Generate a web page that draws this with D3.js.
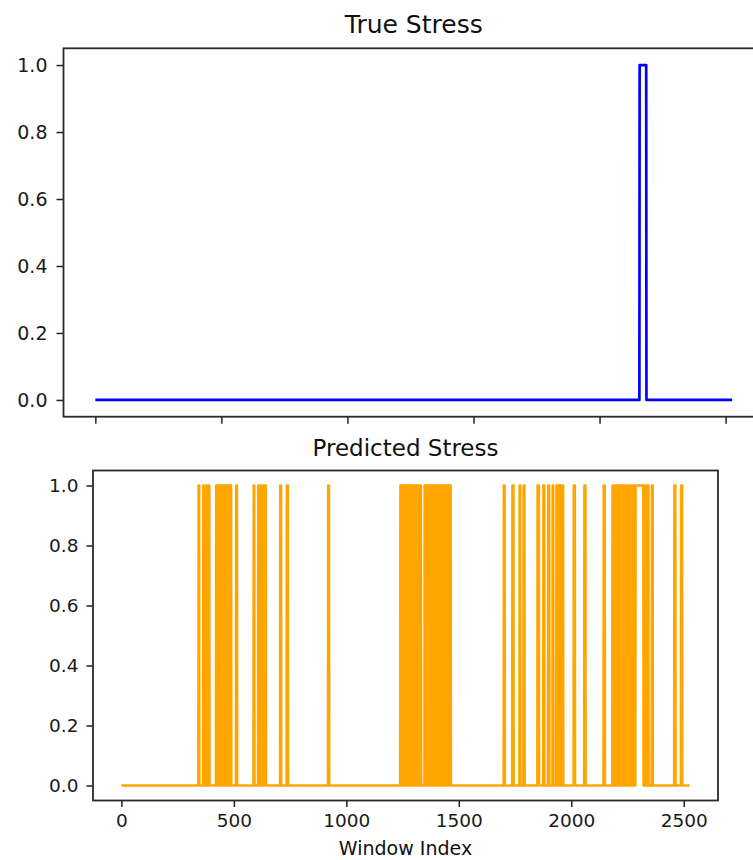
<!DOCTYPE html>
<html>
<head>
<meta charset="utf-8">
<script src="https://cdn.jsdelivr.net/npm/d3@7"></script>
<style>
  body { margin: 0; background: #fff; }
  svg { display: block; font-family: "DejaVu Sans", sans-serif; }
</style>
</head>
<body>
<svg id="chart" width="753" height="860"></svg>
<script>
// number of windows (index 0 .. nWindows-1)
var nWindows = 2527;
var xTicks = [0, 500, 1000, 1500, 2000, 2500];
var yTicks = [0, 0.2, 0.4, 0.6, 0.8, 1.0];

// windows where the label is 1, as [first, last] index runs
var trueStressRuns = [[2159, 2185]];

var predStressRuns = [
  [343, 346], [364, 367], [378, 382], [387, 391],
  [421, 423], [426, 428], [431, 433], [436, 438], [441, 443], [446, 448], [451, 453],
  [456, 458], [461, 463], [466, 468], [471, 473], [476, 478], [481, 483], [486, 488],
  [510, 514], [588, 591], [608, 611], [618, 621], [630, 633], [638, 642],
  [706, 710], [735, 740], [919, 923],
  [1240, 1242], [1245, 1247], [1250, 1252], [1255, 1257], [1260, 1262], [1265, 1267],
  [1270, 1272], [1275, 1277], [1280, 1282], [1285, 1287], [1290, 1292], [1295, 1297], [1300, 1303],
  [1312, 1314], [1317, 1319], [1322, 1324], [1328, 1332],
  [1348, 1350], [1353, 1355], [1358, 1360], [1363, 1365], [1368, 1370], [1373, 1375],
  [1378, 1380], [1383, 1385], [1388, 1390], [1393, 1395], [1398, 1400], [1406, 1408],
  [1411, 1413], [1416, 1418], [1421, 1423], [1430, 1432], [1435, 1437], [1440, 1442],
  [1445, 1447], [1450, 1452], [1455, 1457], [1460, 1464],
  [1700, 1704], [1738, 1743], [1770, 1773], [1788, 1792], [1850, 1856],
  [1876, 1880], [1897, 1902],
  [1917, 1920], [1934, 1936], [1939, 1941], [1944, 1946], [1949, 1951], [1954, 1956], [1960, 1964],
  [2011, 2016], [2058, 2063], [2144, 2149],
  [2183, 2186], [2195, 2198], [2202, 2206], [2214, 2217], [2220, 2222], [2226, 2228],
  [2231, 2233], [2236, 2238], [2248, 2251], [2256, 2258], [2266, 2269], [2276, 2278],
  [2286, 2320], [2328, 2331], [2340, 2343], [2358, 2362],
  [2458, 2463], [2488, 2493]
];

function toSeries(runs) {
  var vals = new Array(nWindows).fill(0);
  runs.forEach(function(r) {
    for (var i = r[0]; i <= r[1]; i++) vals[i] = 1;
  });
  return vals.map(function(v, i) { return {i: i, v: v}; });
}

var svg = d3.select("#chart");
var pad = (nWindows - 1) * 0.05;

function drawPanel(opt) {
  var x = d3.scaleLinear().domain([-pad, nWindows - 1 + pad]).range([opt.left, opt.right]);
  var y = d3.scaleLinear().domain([-0.05, 1.05]).range([opt.bottom, opt.top]);
  var g = svg.append("g");

  var line = d3.line().x(function(d) { return x(d.i); }).y(function(d) { return y(d.v); });
  g.append("path")
    .datum(opt.data)
    .attr("fill", "none")
    .attr("stroke", opt.color)
    .attr("stroke-width", opt.lw)
    .attr("stroke-linejoin", "round")
    .attr("d", line);

  var xAxis = d3.axisBottom(x).tickValues(xTicks).tickFormat(d3.format("d"))
    .tickSize(opt.tick).tickSizeOuter(0).tickPadding(opt.xPad);
  if (!opt.xLabels) xAxis.tickFormat("");
  var gx = g.append("g").attr("transform", "translate(0," + opt.bottom + ")").call(xAxis);
  gx.select(".domain").remove();

  var yAxis = d3.axisLeft(y).tickValues(yTicks).tickFormat(d3.format(".1f"))
    .tickSize(opt.tick).tickSizeOuter(0).tickPadding(opt.yPad);
  var gy = g.append("g").attr("transform", "translate(" + opt.left + ",0)").call(yAxis);
  gy.select(".domain").remove();

  [gx, gy].forEach(function(a) {
    a.attr("font-family", "DejaVu Sans, sans-serif").attr("font-size", opt.fs);
    a.selectAll("line").attr("stroke", "#222").attr("stroke-width", 1.5);
    a.selectAll("text").attr("fill", "#1a1a1a");
  });

  // frame
  g.append("rect")
    .attr("x", opt.left).attr("y", opt.top)
    .attr("width", opt.right - opt.left).attr("height", opt.bottom - opt.top)
    .attr("fill", "none").attr("stroke", "#2a2a2a").attr("stroke-width", 1.8);

  g.append("text")
    .attr("x", (opt.left + opt.right) / 2).attr("y", opt.titleY)
    .attr("text-anchor", "middle").attr("font-size", opt.titleFs).attr("fill", "#111")
    .text(opt.title);
  return x;
}

drawPanel({
  left: 63.5, right: 764, top: 48.3, bottom: 416.7,
  data: toSeries(trueStressRuns), color: "blue", lw: 2.7,
  tick: 7, xPad: 4, yPad: 9, fs: 19, xLabels: false,
  title: "True Stress", titleY: 33, titleFs: 25
});

drawPanel({
  left: 93, right: 718, top: 470.5, bottom: 800.5,
  data: toSeries(predStressRuns), color: "orange", lw: 2.4,
  tick: 6.5, xPad: 7, yPad: 8, fs: 18.5, xLabels: true,
  title: "Predicted Stress", titleY: 456, titleFs: 23
});

svg.append("text")
  .attr("x", (93 + 718) / 2).attr("y", 855)
  .attr("text-anchor", "middle").attr("font-size", 19).attr("fill", "#111")
  .text("Window Index");
</script>
</body>
</html>
